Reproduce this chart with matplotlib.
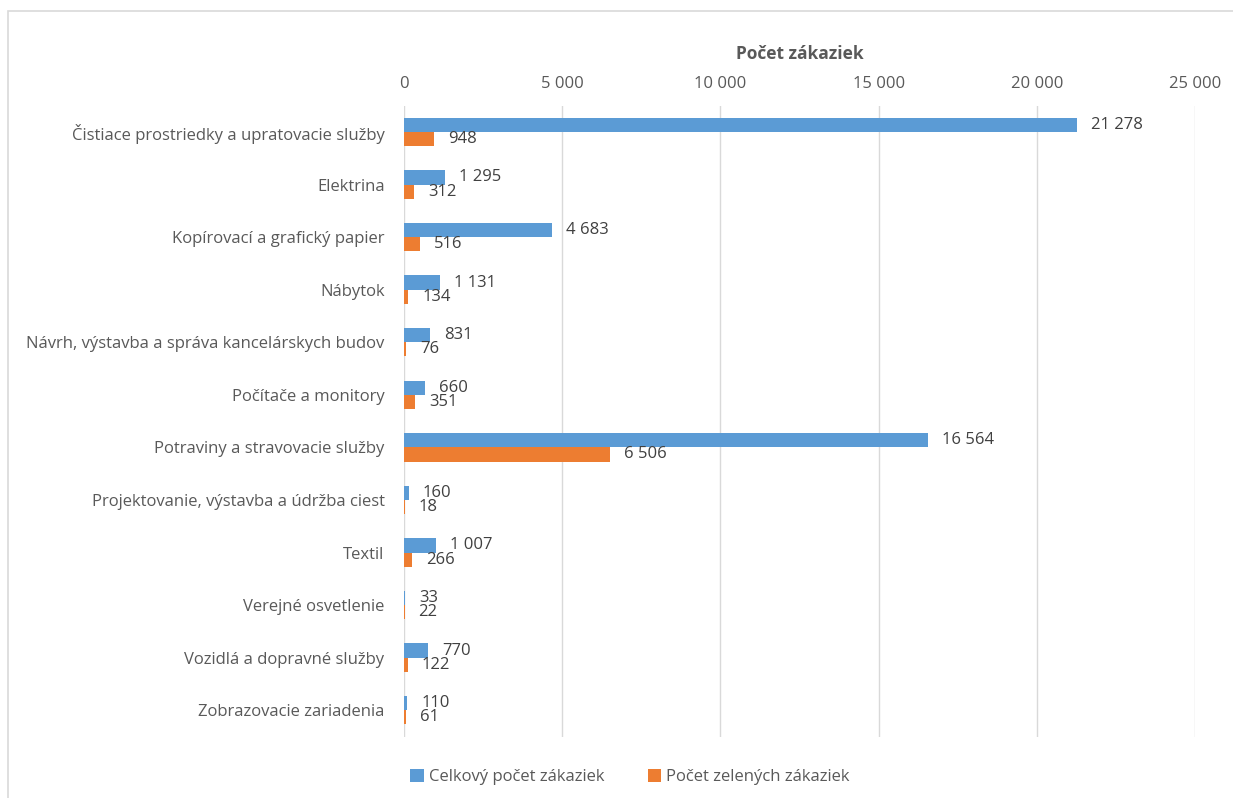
import matplotlib
matplotlib.use("Agg")
import matplotlib.pyplot as plt
from matplotlib.patches import Rectangle
import numpy as np

categories = [
    "Čistiace prostriedky a upratovacie služby",
    "Elektrina",
    "Kopírovací a grafický papier",
    "Nábytok",
    "Návrh, výstavba a správa kancelárskych budov",
    "Počítače a monitory",
    "Potraviny a stravovacie služby",
    "Projektovanie, výstavba a údržba ciest",
    "Textil",
    "Verejné osvetlenie",
    "Vozidlá a dopravné služby",
    "Zobrazovacie zariadenia",
]
total = [21278, 1295, 4683, 1131, 831, 660, 16564, 160, 1007, 33, 770, 110]
green = [948, 312, 516, 134, 76, 351, 6506, 18, 266, 22, 122, 61]
series_names = ["Celkový počet zákaziek", "Počet zelených zákaziek"]
xticks = [0, 5000, 10000, 15000, 20000, 25000]

BLUE = "#5B9BD5"
ORANGE = "#ED7D31"
TXT = "#595959"
GRID = "#D9D9D9"
FS = 12

plt.rcParams['font.family'] = ['Open Sans', 'DejaVu Sans']

fig = plt.figure(figsize=(12.33, 7.98), dpi=100)
fig.patches.append(Rectangle((8/1233, -0.01), 1.02, 1 - 11/798 + 0.01,
                             transform=fig.transFigure, fill=False,
                             edgecolor=GRID, linewidth=1.2))
ax = fig.add_axes([404/1233, 1 - 736.5/798, (1195-404)/1233, (736.5-105.7)/798])

def fmt(v):
    return f"{v:,}".replace(",", " ")

y = np.arange(len(categories))
h = 0.27
ax.barh(y - h/2, total, height=h, color=BLUE, label=series_names[0])
ax.barh(y + h/2, green, height=h, color=ORANGE, label=series_names[1])

for yi, v in zip(y, total):
    ax.annotate(fmt(v), (v, yi - h/2), xytext=(10, 0), textcoords="offset points",
                va="center", ha="left", fontsize=FS, color="#404040")
for yi, v in zip(y, green):
    ax.annotate(fmt(v), (v, yi + h/2), xytext=(10, 0), textcoords="offset points",
                va="center", ha="left", fontsize=FS, color="#404040")

ax.set_ylim(len(categories) - 0.5, -0.5)
ax.set_xlim(0, 25000)
ax.set_yticks(y)
ax.set_yticklabels(categories, fontsize=FS, color=TXT)
ax.xaxis.tick_top()
ax.xaxis.set_label_position("top")
ax.set_xticks(xticks)
ax.set_xticklabels([fmt(v) for v in xticks], fontsize=FS, color=TXT)
ax.set_xlabel("Počet zákaziek", fontsize=12.5, fontweight="bold", color=TXT, labelpad=12)
ax.tick_params(length=0, pad=10)
ax.tick_params(axis="y", pad=14)
ax.grid(axis="x", color=GRID, linewidth=1)
ax.set_axisbelow(True)
for s in ax.spines.values():
    s.set_visible(False)

fig.legend(loc="center", bbox_to_anchor=(630/1233, 1 - 777/798), ncol=2,
           frameon=False, fontsize=FS, labelcolor=TXT, handlelength=0.8,
           handleheight=0.8, handletextpad=0.3, columnspacing=2.6)

fig.savefig("out.png", dpi=100)
